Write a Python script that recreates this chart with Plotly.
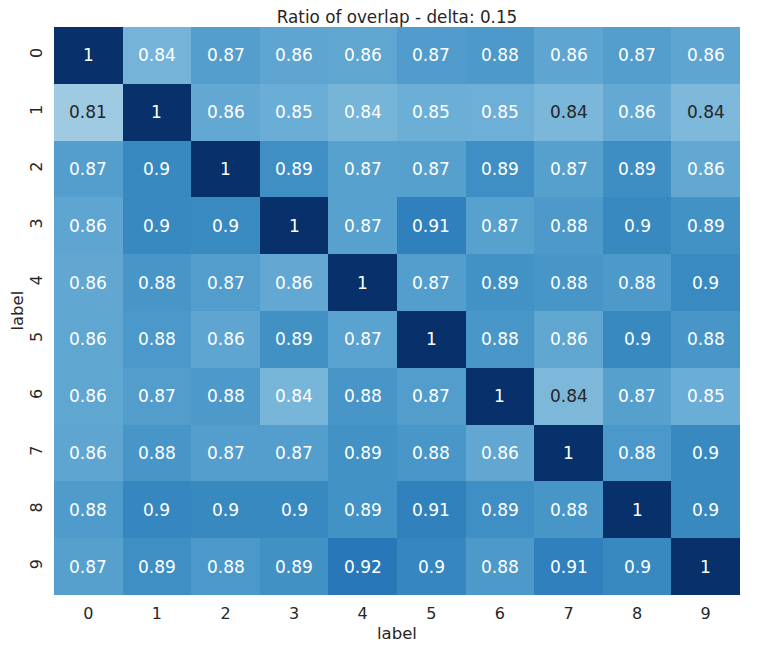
import plotly.graph_objects as go

labels = ["0", "1", "2", "3", "4", "5", "6", "7", "8", "9"]

# overlap ratios, row = label on y, column = label on x
row0 = [1.0, 0.843, 0.872, 0.862, 0.861, 0.874, 0.878, 0.862, 0.872, 0.862]
row1 = [0.812, 1.0, 0.858, 0.851, 0.842, 0.849, 0.848, 0.838, 0.857, 0.836]
row2 = [0.871, 0.898, 1.0, 0.891, 0.868, 0.869, 0.891, 0.869, 0.892, 0.858]
row3 = [0.862, 0.898, 0.897, 1.0, 0.868, 0.908, 0.868, 0.878, 0.898, 0.888]
row4 = [0.859, 0.882, 0.873, 0.858, 1.0, 0.871, 0.888, 0.882, 0.878, 0.897]
row5 = [0.861, 0.879, 0.862, 0.889, 0.866, 1.0, 0.881, 0.861, 0.898, 0.882]
row6 = [0.861, 0.873, 0.878, 0.841, 0.882, 0.873, 1.0, 0.837, 0.869, 0.851]
row7 = [0.862, 0.882, 0.872, 0.871, 0.888, 0.881, 0.859, 1.0, 0.879, 0.898]
row8 = [0.876, 0.901, 0.898, 0.898, 0.888, 0.907, 0.891, 0.882, 1.0, 0.898]
row9 = [0.869, 0.891, 0.879, 0.889, 0.917, 0.901, 0.878, 0.908, 0.898, 1.0]
z = [row0, row1, row2, row3, row4, row5, row6, row7, row8, row9]

blues = ["#f7fbff", "#deebf7", "#c6dbef", "#9ecae1", "#6baed6",
         "#4292c6", "#2171b5", "#08519c", "#08306b"]
scale = [[i / 8, c] for i, c in enumerate(blues)]

fig = go.Figure(go.Heatmap(
    z=z, x=labels, y=labels,
    colorscale=scale, zmin=0.70, zmax=1.0,
    showscale=False,
))

# cell annotations, dark text on the lightest cells
annots = []
for i, ylab in enumerate(labels):
    for j, xlab in enumerate(labels):
        v = z[i][j]
        annots.append(dict(
            x=xlab, y=ylab, text=f"{v:.2g}", showarrow=False,
            font=dict(size=17, color="#262626" if v < 0.84 else "white"),
        ))

# axis titles placed by hand (seaborn style)
annots.append(dict(text="label", x=0.5, y=-0.067, xref="paper", yref="paper",
                   xanchor="center", yanchor="middle", showarrow=False,
                   font=dict(size=16.5)))
annots.append(dict(text="label", x=-0.0545, y=0.5, xref="paper", yref="paper",
                   xanchor="center", yanchor="middle", showarrow=False,
                   textangle=-90, font=dict(size=16.5)))

fig.update_layout(
    width=762, height=650,
    margin=dict(l=46, r=30, t=19, b=63),
    paper_bgcolor="white", plot_bgcolor="white",
    font=dict(family="DejaVu Sans", color="#262626", size=16),
    title=dict(text="Ratio of overlap - delta: 0.15", x=0.5, xref="paper",
               y=1 - 9 / 650, yref="container", yanchor="middle",
               font=dict(size=16.8, color="#262626")),
    annotations=annots,
)
fig.update_xaxes(automargin=False, ticks="outside", ticklen=4,
                 tickcolor="rgba(0,0,0,0)", showgrid=False, zeroline=False)
fig.update_yaxes(automargin=False, ticks="outside", ticklen=5,
                 tickcolor="rgba(0,0,0,0)", tickangle=-90,
                 autorange="reversed", showgrid=False, zeroline=False)

fig.write_html("out.html")
